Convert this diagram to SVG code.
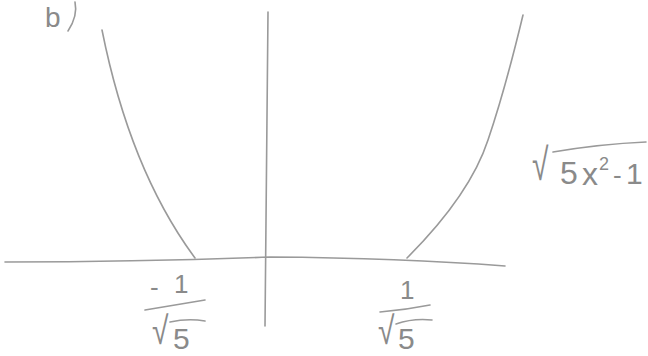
<svg xmlns="http://www.w3.org/2000/svg" width="648" height="356" viewBox="0 0 648 356">
<style>
.s{fill:none;stroke:#9a9a9a;stroke-width:1.6;stroke-linecap:round;stroke-linejoin:round}
.t{fill:#8a8a8a;font-family:"Liberation Sans",sans-serif}
</style>
<rect width="648" height="356" fill="#ffffff"/>
<g id="axes">
<path class="s" d="M5,262 Q140,262 270,257 Q400,258 505,266"/>
<path class="s" d="M268,12 Q266,170 265,326"/>
</g>
<g id="curves">
<path class="s" d="M102,30 Q130,170 195,258"/>
<path class="s" d="M407,258 Q470,195 488,140 Q505,90 523,15"/>
</g>
<g id="label-b">
<text class="t" x="45" y="27" font-size="28">b</text>
<path class="s" d="M75,2 Q78,16 68,31"/>
</g>
<g id="label-func">
<text class="t" transform="translate(532,180) scale(1,1.5)" font-size="30">√</text>
<path class="s" d="M553,152 Q600,144 646,142"/>
<text class="t" x="560" y="184" font-size="32">5</text>
<text class="t" x="582" y="185" font-size="32">x</text>
<text class="t" x="599" y="170" font-size="18">2</text>
<text class="t" x="613" y="184" font-size="26">-</text>
<text class="t" x="626" y="184" font-size="30">1</text>
</g>
<g id="label-neg">
<text class="t" x="150" y="296" font-size="26">-</text>
<text class="t" x="174" y="293" font-size="26">1</text>
<path class="s" d="M145,310 Q175,305 205,300"/>
<text class="t" transform="translate(152,344) scale(1,1.3)" font-size="30">√</text>
<path class="s" d="M170,322 Q188,318 205,321"/>
<text class="t" x="173" y="349" font-size="30">5</text>
</g>
<g id="label-pos">
<text class="t" x="400" y="299" font-size="26">1</text>
<path class="s" d="M380,312 Q405,310 430,305"/>
<text class="t" transform="translate(378,344) scale(1,1.3)" font-size="30">√</text>
<path class="s" d="M396,324 Q413,318 432,320"/>
<text class="t" x="398" y="349" font-size="30">5</text>
</g>
</svg>
